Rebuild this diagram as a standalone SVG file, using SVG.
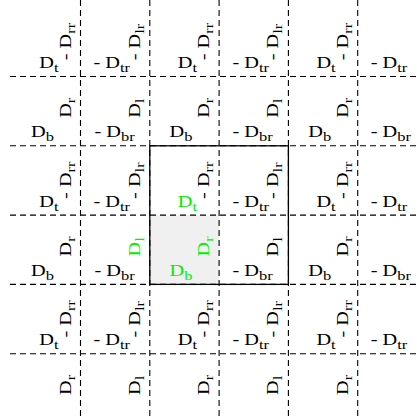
<svg xmlns="http://www.w3.org/2000/svg" width="417" height="420" viewBox="0 0 417 420">
<style>
.t{font-family:"Liberation Serif","Times New Roman",serif;font-size:16px;fill:#000}
.g{fill:#00f000}
.s{font-size:13px}
.e{text-anchor:end}
.grid line{stroke:#000;stroke-width:1.1;stroke-dasharray:6 4}
</style>
<rect id="shade" x="149.8" y="215.1" width="69.3" height="69.3" fill="#f0f0f0"/>
<g id="connectors" class="grid">
<line x1="80.5" y1="0" x2="80.5" y2="420"/>
<line x1="149.8" y1="0" x2="149.8" y2="420"/>
<line x1="219.1" y1="0" x2="219.1" y2="420"/>
<line x1="288.4" y1="0" x2="288.4" y2="420"/>
<line x1="357.7" y1="0" x2="357.7" y2="420"/>
<line x1="10" y1="76.5" x2="417" y2="76.5"/>
<line x1="10" y1="145.8" x2="417" y2="145.8"/>
<line x1="10" y1="215.1" x2="417" y2="215.1"/>
<line x1="10" y1="284.4" x2="417" y2="284.4"/>
<line x1="10" y1="353.7" x2="417" y2="353.7"/>
</g>
<rect id="frame" x="149.8" y="145.8" width="138.6" height="138.6" fill="none" stroke="#000" stroke-width="1.3"/>

<g id="row0" class="t">
<text class="e" transform="translate(58.5,68) scale(1.27,1)">D<tspan class="s" dy="4">t</tspan></text>
<text transform="translate(93.5,68) scale(1.27,1)">- D<tspan class="s" dy="4">tr</tspan></text>
<text class="e" transform="translate(197,68) scale(1.27,1)">D<tspan class="s" dy="4">t</tspan></text>
<text transform="translate(232.4,68) scale(1.27,1)">- D<tspan class="s" dy="4">tr</tspan></text>
<text class="e" transform="translate(335.7,68) scale(1.27,1)">D<tspan class="s" dy="4">t</tspan></text>
<text transform="translate(370.7,68) scale(1.27,1)">- D<tspan class="s" dy="4">tr</tspan></text>
<text transform="translate(70.5,60.3) rotate(-90) scale(1.27,1)">- D<tspan class="s" dy="4">rr</tspan></text>
<text transform="translate(139.8,60.3) rotate(-90) scale(1.27,1)">- D<tspan class="s" dy="4">lr</tspan></text>
<text transform="translate(209.1,60.3) rotate(-90) scale(1.27,1)">- D<tspan class="s" dy="4">rr</tspan></text>
<text transform="translate(278.4,60.3) rotate(-90) scale(1.27,1)">- D<tspan class="s" dy="4">lr</tspan></text>
<text transform="translate(347.7,60.3) rotate(-90) scale(1.27,1)">- D<tspan class="s" dy="4">rr</tspan></text>
</g>

<g id="row1" class="t">
<text class="e" transform="translate(54,137.3) scale(1.27,1)">D<tspan class="s" dy="4">b</tspan></text>
<text transform="translate(94.5,137.3) scale(1.27,1)">- D<tspan class="s" dy="4">br</tspan></text>
<text class="e" transform="translate(192.5,137.3) scale(1.27,1)">D<tspan class="s" dy="4">b</tspan></text>
<text transform="translate(232.4,137.3) scale(1.27,1)">- D<tspan class="s" dy="4">br</tspan></text>
<text class="e" transform="translate(331.2,137.3) scale(1.27,1)">D<tspan class="s" dy="4">b</tspan></text>
<text transform="translate(370.7,137.3) scale(1.27,1)">- D<tspan class="s" dy="4">br</tspan></text>
<text transform="translate(70.5,117.8) rotate(-90) scale(1.27,1)">D<tspan class="s" dy="4">r</tspan></text>
<text transform="translate(139.8,117.8) rotate(-90) scale(1.27,1)">D<tspan class="s" dy="4">l</tspan></text>
<text transform="translate(209.1,117.8) rotate(-90) scale(1.27,1)">D<tspan class="s" dy="4">r</tspan></text>
<text transform="translate(278.4,117.8) rotate(-90) scale(1.27,1)">D<tspan class="s" dy="4">l</tspan></text>
<text transform="translate(347.7,117.8) rotate(-90) scale(1.27,1)">D<tspan class="s" dy="4">r</tspan></text>
</g>

<g id="row2" class="t">
<text class="e" transform="translate(58.5,206.6) scale(1.27,1)">D<tspan class="s" dy="4">t</tspan></text>
<text transform="translate(93.5,206.6) scale(1.27,1)">- D<tspan class="s" dy="4">tr</tspan></text>
<text class="e g" transform="translate(197,206.6) scale(1.27,1)">D<tspan class="s" dy="4">t</tspan></text>
<text transform="translate(232.4,206.6) scale(1.27,1)">- D<tspan class="s" dy="4">tr</tspan></text>
<text class="e" transform="translate(335.7,206.6) scale(1.27,1)">D<tspan class="s" dy="4">t</tspan></text>
<text transform="translate(370.7,206.6) scale(1.27,1)">- D<tspan class="s" dy="4">tr</tspan></text>
<text transform="translate(70.5,198.9) rotate(-90) scale(1.27,1)">- D<tspan class="s" dy="4">rr</tspan></text>
<text transform="translate(139.8,198.9) rotate(-90) scale(1.27,1)">- D<tspan class="s" dy="4">lr</tspan></text>
<text transform="translate(209.1,198.9) rotate(-90) scale(1.27,1)">- D<tspan class="s" dy="4">rr</tspan></text>
<text transform="translate(278.4,198.9) rotate(-90) scale(1.27,1)">- D<tspan class="s" dy="4">lr</tspan></text>
<text transform="translate(347.7,198.9) rotate(-90) scale(1.27,1)">- D<tspan class="s" dy="4">rr</tspan></text>
</g>

<g id="row3" class="t">
<text class="e" transform="translate(54,275.9) scale(1.27,1)">D<tspan class="s" dy="4">b</tspan></text>
<text transform="translate(94.5,275.9) scale(1.27,1)">- D<tspan class="s" dy="4">br</tspan></text>
<text class="e g" transform="translate(192.5,275.9) scale(1.27,1)">D<tspan class="s" dy="4">b</tspan></text>
<text transform="translate(232.4,275.9) scale(1.27,1)">- D<tspan class="s" dy="4">br</tspan></text>
<text class="e" transform="translate(331.2,275.9) scale(1.27,1)">D<tspan class="s" dy="4">b</tspan></text>
<text transform="translate(370.7,275.9) scale(1.27,1)">- D<tspan class="s" dy="4">br</tspan></text>
<text transform="translate(70.5,256.4) rotate(-90) scale(1.27,1)">D<tspan class="s" dy="4">r</tspan></text>
<text class="g" transform="translate(139.8,256.4) rotate(-90) scale(1.27,1)">D<tspan class="s" dy="4">l</tspan></text>
<text class="g" transform="translate(209.1,256.4) rotate(-90) scale(1.27,1)">D<tspan class="s" dy="4">r</tspan></text>
<text transform="translate(278.4,256.4) rotate(-90) scale(1.27,1)">D<tspan class="s" dy="4">l</tspan></text>
<text transform="translate(347.7,256.4) rotate(-90) scale(1.27,1)">D<tspan class="s" dy="4">r</tspan></text>
</g>

<g id="row4" class="t">
<text class="e" transform="translate(58.5,345.2) scale(1.27,1)">D<tspan class="s" dy="4">t</tspan></text>
<text transform="translate(93.5,345.2) scale(1.27,1)">- D<tspan class="s" dy="4">tr</tspan></text>
<text class="e" transform="translate(197,345.2) scale(1.27,1)">D<tspan class="s" dy="4">t</tspan></text>
<text transform="translate(232.4,345.2) scale(1.27,1)">- D<tspan class="s" dy="4">tr</tspan></text>
<text class="e" transform="translate(335.7,345.2) scale(1.27,1)">D<tspan class="s" dy="4">t</tspan></text>
<text transform="translate(370.7,345.2) scale(1.27,1)">- D<tspan class="s" dy="4">tr</tspan></text>
<text transform="translate(70.5,337.5) rotate(-90) scale(1.27,1)">- D<tspan class="s" dy="4">rr</tspan></text>
<text transform="translate(139.8,337.5) rotate(-90) scale(1.27,1)">- D<tspan class="s" dy="4">lr</tspan></text>
<text transform="translate(209.1,337.5) rotate(-90) scale(1.27,1)">- D<tspan class="s" dy="4">rr</tspan></text>
<text transform="translate(278.4,337.5) rotate(-90) scale(1.27,1)">- D<tspan class="s" dy="4">lr</tspan></text>
<text transform="translate(347.7,337.5) rotate(-90) scale(1.27,1)">- D<tspan class="s" dy="4">rr</tspan></text>
</g>

<g id="row5" class="t">
<text transform="translate(70.5,395) rotate(-90) scale(1.27,1)">D<tspan class="s" dy="4">r</tspan></text>
<text transform="translate(139.8,395) rotate(-90) scale(1.27,1)">D<tspan class="s" dy="4">l</tspan></text>
<text transform="translate(209.1,395) rotate(-90) scale(1.27,1)">D<tspan class="s" dy="4">r</tspan></text>
<text transform="translate(278.4,395) rotate(-90) scale(1.27,1)">D<tspan class="s" dy="4">l</tspan></text>
<text transform="translate(347.7,395) rotate(-90) scale(1.27,1)">D<tspan class="s" dy="4">r</tspan></text>
</g>
</svg>
